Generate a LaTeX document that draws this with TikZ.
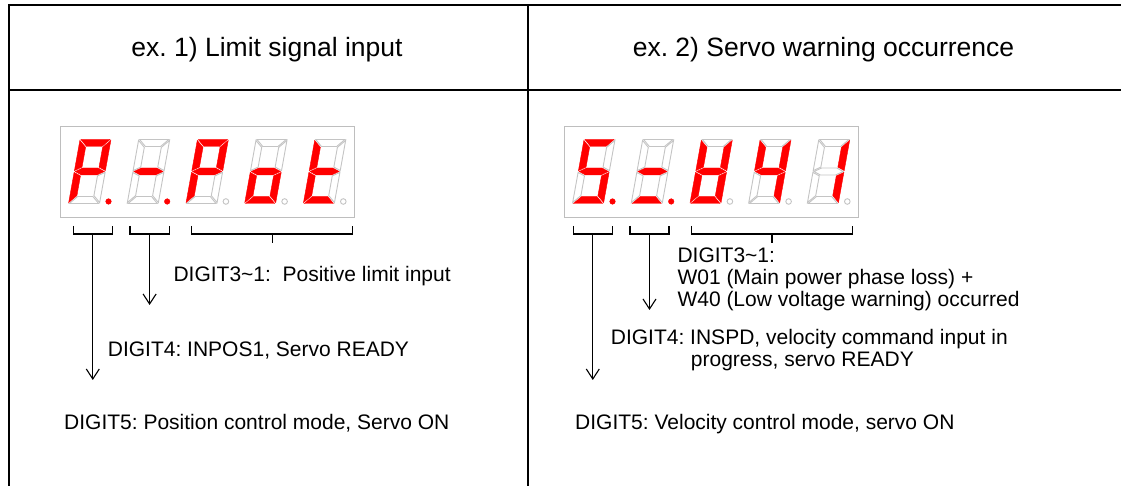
\documentclass[tikz,border=0pt]{standalone}
\usepackage{fontspec}
\setmainfont{Liberation Sans}
\usetikzlibrary{arrows.meta}
\definecolor{segred}{HTML}{FF0000}
\definecolor{seggray}{HTML}{C4C4C4}
\definecolor{boxgray}{HTML}{BEBEBE}
\frenchspacing
% #1 x, #2 y (bottom-left), #3..#9 styles of segments a b c d e f g
\newcommand\sevenseg[9]{%
\begin{scope}[shift={(#1,#2)},xslant=0.18]
\path[#3] (0.9,64) -- (30.1,64) -- (23.1,57) -- (7.9,57) -- cycle;
\path[#4] (31,63.1) -- (24,56.1) -- (24,36.4) -- (31,32.9) -- cycle;
\path[#5] (31,0.9) -- (24,7.9) -- (24,27.6) -- (31,31.1) -- cycle;
\path[#6] (0.9,0) -- (30.1,0) -- (23.1,7) -- (7.9,7) -- cycle;
\path[#7] (0,0.9) -- (7,7.9) -- (7,27.6) -- (0,31.1) -- cycle;
\path[#8] (0,63.1) -- (7,56.1) -- (7,36.4) -- (0,32.9) -- cycle;
\path[#9] (0.9,32) -- (7.9,35.5) -- (23.1,35.5) -- (30.1,32) -- (23.1,28.5) -- (7.9,28.5) -- cycle;
\end{scope}}
\newcommand\segdot[2]{\path[#2] (#1+40,284.5) circle[radius=2.8];}
\begin{document}
\begin{tikzpicture}[x=1pt,y=1pt,
 tbl/.style={line width=2pt,black},
 brk/.style={line width=1.1pt,black},
 arr/.style={brk,-{Straight Barb[length=10pt,width=13pt,line width=1.1pt]}},
 lbl/.style={anchor=base west,inner sep=0pt,font=\fontsize{21}{25}\selectfont},
 ttl/.style={anchor=base,inner sep=0pt,font=\fontsize{26.5}{30}\selectfont},
 sON/.style={fill=segred,draw=segred,line width=0.4pt},
 sOFF/.style={fill=white,draw=seggray,line width=0.9pt},
 dispbox/.style={draw=boxgray,line width=1pt,fill=white,inner sep=0pt,anchor=south west,minimum width=294.3pt,minimum height=90.5pt}]
\useasboundingbox (0,0) rectangle (1121,486);
\fill[white] (0,0) rectangle (1121,486);
% table
\draw[tbl] (1121,481) -- (8.5,481) -- (8.5,0);
\draw[tbl] (8.5,396) -- (1121,396);
\draw[tbl] (528.3,481) -- (528.3,0);
\node[ttl] (title1) at (267,429) {ex. 1) Limit signal input};
\node[ttl] (title2) at (823.5,429) {ex. 2) Servo warning occurrence};
% displays
\node[dispbox] (disp1) at (60,268) {};
\node[dispbox] (disp2) at (564,268) {};
% left digits: P - P o t
\sevenseg{68.5}{282.5}{sON}{sON}{sOFF}{sOFF}{sON}{sON}{sON}
\sevenseg{127.2}{282.5}{sOFF}{sOFF}{sOFF}{sOFF}{sOFF}{sOFF}{sON}
\sevenseg{185.9}{282.5}{sON}{sON}{sOFF}{sOFF}{sON}{sON}{sON}
\sevenseg{244.6}{282.5}{sOFF}{sOFF}{sON}{sON}{sON}{sOFF}{sON}
\sevenseg{303.3}{282.5}{sOFF}{sOFF}{sOFF}{sON}{sON}{sON}{sON}
\segdot{68.5}{sON}\segdot{127.2}{sON}\segdot{185.9}{sOFF}\segdot{244.6}{sOFF}\segdot{303.3}{sOFF}
% right digits: S _ W 4 1
\sevenseg{572.5}{282.5}{sON}{sOFF}{sON}{sON}{sOFF}{sON}{sON}
\sevenseg{631.2}{282.5}{sOFF}{sOFF}{sOFF}{sON}{sOFF}{sOFF}{sON}
\sevenseg{689.9}{282.5}{sOFF}{sON}{sON}{sON}{sON}{sON}{sON}
\sevenseg{748.6}{282.5}{sOFF}{sON}{sON}{sOFF}{sOFF}{sON}{sON}
\sevenseg{807.3}{282.5}{sOFF}{sON}{sON}{sOFF}{sOFF}{sOFF}{sOFF}
\segdot{572.5}{sON}\segdot{631.2}{sON}\segdot{689.9}{sOFF}\segdot{748.6}{sOFF}\segdot{807.3}{sOFF}
% brackets left
\draw[brk] (73.3,260) |- (112.3,252) -- (112.3,260);
\draw[brk] (130,260) |- (169.3,252) -- (169.3,260);
\draw[brk] (191.7,260) |- (352.7,252) -- (352.7,260);
\coordinate (ls1) at (92.8,252); \coordinate (le1) at (92.8,106);
\coordinate (ls2) at (149.6,252); \coordinate (le2) at (149.6,181);
\coordinate (ls3) at (272.2,252); \coordinate (le3) at (272.2,243);
\draw[arr] (ls1) -- (le1);
\draw[arr] (ls2) -- (le2);
\draw[brk] (ls3) -- (le3);
% brackets right
\draw[brk] (573.3,260) |- (612.3,252) -- (612.3,260);
\draw[brk] (630,260) |- (669,252) -- (669,260);
\draw[brk] (691.7,260) |- (852.3,252) -- (852.3,260);
\coordinate (rs1) at (592.8,252); \coordinate (re1) at (592.8,106);
\coordinate (rs2) at (649.5,252); \coordinate (re2) at (649.5,176);
\coordinate (rs3) at (772,252); \coordinate (re3) at (772,243);
\draw[arr] (rs1) -- (re1);
\draw[arr] (rs2) -- (re2);
\draw[brk] (rs3) -- (re3);
% labels left
\node[lbl] (l3) at (173.3,204) {DIGIT3\textasciitilde1:\ \ Positive limit input};
\node[lbl] (l4) at (107.7,129) {DIGIT4: INPOS1, Servo READY};
\node[lbl] (l5) at (64,56) {DIGIT5: Position control mode, Servo ON};
% labels right
\node[lbl] (r3a) at (677.3,223) {DIGIT3\textasciitilde1:};
\node[lbl] (r3b) at (677.3,201) {W01 (Main power phase loss) +};
\node[lbl] (r3c) at (677.3,179) {W40 (Low voltage warning) occurred};
\node[lbl] (r4a) at (610.7,141) {DIGIT4: INSPD, velocity command input in};
\node[lbl] (r4b) at (690.7,119) {progress, servo READY};
\node[lbl] (r5) at (575,56) {DIGIT5: Velocity control mode, servo ON};
\end{tikzpicture}
\end{document}
